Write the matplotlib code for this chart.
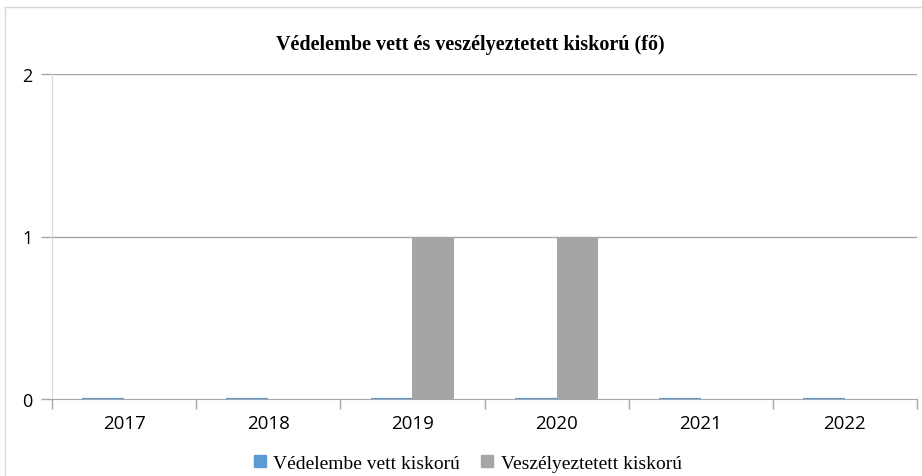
import matplotlib.pyplot as plt
import numpy as np
from matplotlib.lines import Line2D

years = ['2017', '2018', '2019', '2020', '2021', '2022']
vedelembe = [0, 0, 0, 0, 0, 0]
veszelyeztetett = [0, 0, 1, 1, 0, 0]
series_names = ['Védelembe vett kiskorú', 'Veszélyeztetett kiskorú']
y_ticks = [0, 1, 2]

BLUE = '#5B9BD5'
GRAY = '#A5A5A5'
GRID = '#A6A6A6'

fig = plt.figure(figsize=(9.22, 4.77), dpi=100)
ax = fig.add_axes([52 / 922, 77 / 477, 865 / 922, 325 / 477])

x = np.arange(len(years))
width = 0.29
ax.bar(x - width / 2, vedelembe, width, color=BLUE, edgecolor=BLUE, linewidth=1.6)
ax.bar(x + width / 2, veszelyeztetett, width, color=GRAY, linewidth=0)

ax.set_xlim(-0.5, len(years) - 0.5)
ax.set_ylim(0, 2)
ax.set_yticks(y_ticks)
ax.set_yticklabels([str(v) for v in y_ticks], fontsize=13, family='Open Sans')
for v in y_ticks[1:]:
    ax.axhline(v, color=GRID, linewidth=1, zorder=0)

ax.set_xticks(x)
ax.set_xticklabels(years, fontsize=13.5, family='Open Sans')
ax.set_xticks(np.arange(-0.5, len(years)), minor=True)
ax.tick_params(axis='x', which='major', length=0, pad=11)
ax.tick_params(axis='x', which='minor', length=7, color=GRID, width=1)
ax.tick_params(axis='y', length=8, color=GRID, width=1, pad=6)

for side in ['top', 'right']:
    ax.spines[side].set_visible(False)
ax.spines['bottom'].set_color(GRID)
ax.spines['left'].set_color('#D9D9D9')

fig.text(470 / 922, 1 - 45 / 477, 'Védelembe vett és veszélyeztetett kiskorú (fő)',
         ha='center', va='center', fontsize=14.5, fontweight='bold', family='Liberation Serif')

handles = [Line2D([], [], marker='s', linestyle='', markersize=8.5, color=c) for c in (BLUE, GRAY)]
fig.legend(handles, series_names, loc='center', bbox_to_anchor=(467 / 922, 1 - 464 / 477),
           ncol=2, frameon=False, prop={'family': 'Liberation Serif', 'size': 14},
           handlelength=0.8, handletextpad=0.3, columnspacing=1.0)

# chart area border
border = dict(color='#D9D9D9', linewidth=1, transform=fig.transFigure)
fig.add_artist(Line2D([5 / 922, 5 / 922], [0, 1 - 8 / 477], **border))
fig.add_artist(Line2D([5 / 922, 1], [1 - 8 / 477, 1 - 8 / 477], **border))

fig.savefig('out.png', dpi=100)
